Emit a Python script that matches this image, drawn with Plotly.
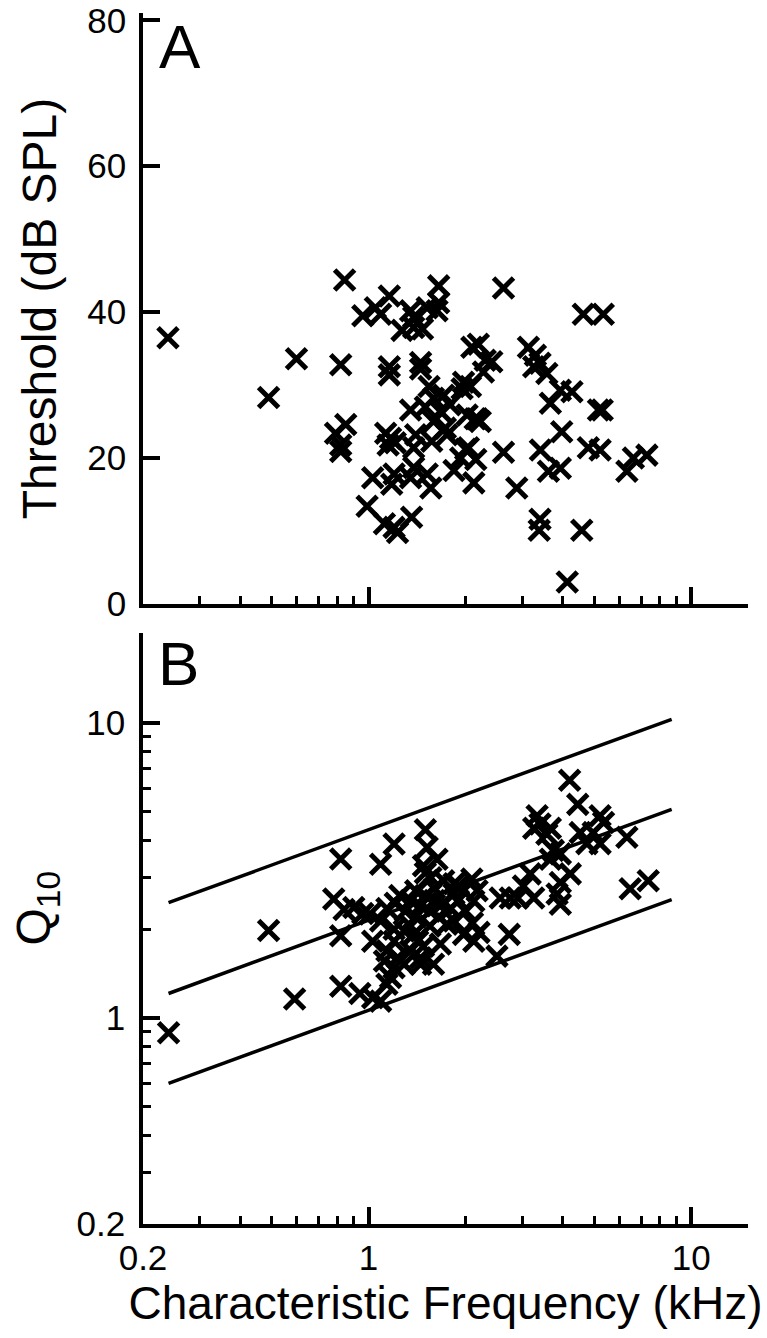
import math
import plotly.graph_objects as go

# ---------------- data ----------------
# Panel A: characteristic frequency (kHz) vs threshold (dB SPL)
cf_a = [0.239, 0.49, 0.598, 0.82, 0.843, 0.85, 0.79, 0.82, 0.82, 0.96,
        1.05, 1.09, 1.16, 1.35, 1.38, 1.63, 1.65, 1.65, 1.52, 2.62,
        4.63, 5.34, 1.27, 1.47, 1.38, 1.16, 1.16, 1.45, 1.45, 2.09,
        2.19, 2.30, 2.41, 3.13, 3.29, 3.25, 3.40, 3.57, 3.93, 4.27,
        3.66, 5.16, 5.30, 3.97, 1.54, 2.07, 1.97, 1.59, 1.71, 1.35,
        1.50, 1.67, 1.79, 2.17, 2.22, 2.02, 1.73, 1.59, 1.17, 1.13,
        1.21, 1.15, 1.40, 1.38, 1.57, 1.75, 2.04, 1.93, 2.62, 2.88,
        2.12, 1.84, 1.52, 1.56, 1.35, 1.38, 1.20, 1.18, 1.03, 0.99,
        1.12, 1.20, 1.23, 1.36, 3.40, 3.38, 4.58, 4.13, 3.41, 3.61,
        3.93, 4.80, 5.22, 6.32, 6.62, 7.29, 2.00, 1.95, 2.14, 2.27,
        2.15]
thr_a = [36.5, 28.3, 33.6, 32.8, 44.4, 24.6, 23.4, 21.8, 20.9, 39.5,
         40.6, 39.7, 42.2, 40.2, 39.3, 40.2, 41.3, 43.6, 40.6, 43.3,
         39.7, 39.7, 37.5, 37.7, 37.9, 32.5, 31.4, 33.1, 32.2, 35.2,
         35.6, 33.4, 33.2, 35.2, 34.1, 32.5, 33.0, 31.6, 29.3, 29.1,
         27.5, 26.6, 26.6, 23.6, 29.8, 29.8, 30.4, 28.2, 28.6, 26.6,
         27.0, 26.4, 27.3, 25.4, 25.0, 25.9, 24.1, 25.0, 22.7, 23.4,
         22.1, 21.8, 23.2, 21.4, 22.3, 23.2, 21.4, 20.0, 20.8, 15.9,
         16.6, 18.3, 17.8, 15.9, 17.3, 18.7, 17.8, 16.4, 17.3, 13.4,
         11.0, 10.5, 9.8, 11.9, 11.6, 10.1, 10.1, 3.0, 21.1, 18.2,
         18.6, 21.4, 21.1, 18.2, 20.0, 20.4, 21.2, 29.5, 25.4, 31.8,
         19.8]

# Panel B: characteristic frequency (kHz) vs Q10
cf_b = [0.24, 0.49, 0.59, 0.82, 0.78, 0.84, 0.82, 0.82, 0.94, 1.03,
        1.09, 0.90, 0.96, 1.03, 1.09, 1.20, 1.50, 1.52, 1.63, 1.48,
        1.56, 1.71, 2.09, 2.17, 1.97, 1.84, 1.20, 1.17, 1.14, 1.14,
        1.12, 1.23, 1.29, 1.35, 1.45, 1.59, 1.45, 1.97, 2.12, 1.75,
        1.84, 1.42, 1.67, 1.29, 1.38, 1.01, 1.09, 1.14, 1.21, 1.30,
        1.35, 1.40, 1.45, 1.50, 1.55, 1.60, 1.65, 1.70, 1.40, 1.25,
        1.55, 1.80, 1.90, 2.00, 2.10, 2.20, 1.35, 1.60, 1.50, 1.90,
        1.48, 1.20, 1.20, 1.84, 2.12,
        4.20, 4.45, 3.33, 3.40, 3.25, 3.66, 5.22, 5.35, 4.53, 4.97,
        4.75, 5.22, 6.32, 3.57, 3.74, 3.93, 3.66, 3.17, 3.02, 2.90,
        3.25, 2.56, 2.75, 4.22, 3.93, 3.84, 3.93, 6.47, 7.36, 2.73,
        2.50]
q10_b = [0.89, 1.98, 1.16, 3.46, 2.53, 2.33, 1.90, 1.28, 1.21, 1.17,
         1.14, 2.37, 2.26, 1.82, 3.32, 3.89, 4.35, 3.79, 3.45, 3.28,
         2.99, 2.92, 2.96, 2.70, 2.70, 2.63, 1.48, 1.37, 1.30, 1.69,
         1.56, 1.60, 1.52, 1.69, 1.60, 1.52, 1.52, 1.92, 1.82, 2.08,
         2.13, 1.82, 1.78, 1.97, 1.92, 2.25, 2.13, 2.35, 2.45, 2.30,
         2.50, 2.20, 2.40, 2.60, 2.30, 2.50, 2.20, 2.45, 2.70, 2.60,
         2.05, 2.35, 2.50, 2.30, 2.10, 1.95, 2.05, 2.75, 3.10, 2.80,
         1.75, 2.00, 1.82, 2.85, 2.49,
         6.40, 5.30, 4.85, 4.55, 4.40, 4.40, 4.85, 4.60, 4.25, 4.25,
         3.90, 3.90, 4.10, 4.20, 3.70, 3.60, 3.45, 3.08, 2.80, 2.55,
         2.55, 2.55, 2.55, 3.08, 2.88, 2.63, 2.43, 2.74, 2.92, 1.92,
         1.62]

# Reference lines in panel B (end points)
line_cf = [0.24, 8.7]
upper_q = [2.46, 10.3]
mid_q = [1.21, 5.1]
lower_q = [0.60, 2.52]

# Tick labels
x_tickvals = [0.2, 1, 10]
x_ticktext = ["0.2", "1", "10"]
log_minor = [0.3, 0.4, 0.5, 0.6, 0.7, 0.8, 0.9, 2, 3, 4, 5, 6, 7, 8, 9]
ya_tickvals = [0, 20, 40, 60, 80]
yb_tickvals = [0.2, 1, 10]
yb_ticktext = ["0.2", "1", "10"]

# ---------------- figure ----------------
FONT = "Liberation Sans, Arial, Helvetica, sans-serif"
TICKFONT = dict(family=FONT, size=35, color="black")
marker = dict(symbol="x-thin", size=20, color="black",
              line=dict(color="black", width=5))

fig = go.Figure()
fig.add_trace(go.Scatter(x=cf_a, y=thr_a, mode="markers", marker=marker,
                         xaxis="x", yaxis="y", showlegend=False))
for qs in (upper_q, mid_q, lower_q):
    fig.add_trace(go.Scatter(x=line_cf, y=qs, mode="lines",
                             line=dict(color="black", width=3.5),
                             xaxis="x2", yaxis="y2", showlegend=False))
fig.add_trace(go.Scatter(x=cf_b, y=q10_b, mode="markers", marker=marker,
                         xaxis="x2", yaxis="y2", showlegend=False))

common = dict(showline=True, linecolor="black", linewidth=3.5,
              ticks="inside", ticklen=17, tickwidth=3.5, tickcolor="black",
              showgrid=False, zeroline=False, tickfont=TICKFONT,
              ticklabeloverflow="allow", automargin=False)
minor = dict(tickmode="array", tickvals=log_minor, ticks="inside",
             ticklen=8, tickwidth=3, tickcolor="black", showgrid=False)
xrange = [math.log10(0.2), math.log10(15)]

fig.update_layout(
    width=767, height=1338,
    margin=dict(l=143, r=19, t=13, b=114, autoexpand=False),
    paper_bgcolor="white", plot_bgcolor="white",
    font=dict(family=FONT, color="black"),
    xaxis=dict(common, type="log", range=xrange, domain=[0, 1], anchor="y",
               tickmode="array", tickvals=x_tickvals, ticktext=x_ticktext,
               showticklabels=False, minor=minor),
    yaxis=dict(common, range=[0, 81], domain=[0.512, 1], anchor="x",
               tickmode="array", tickvals=ya_tickvals, ticklabelstandoff=6,
               title=dict(text="Threshold (dB SPL)", standoff=16,
                          font=dict(family=FONT, size=48))),
    xaxis2=dict(common, type="log", range=xrange, domain=[0, 1], anchor="y2",
                tickmode="array", tickvals=x_tickvals, ticktext=x_ticktext,
                ticklabelstandoff=0, minor=minor,
                title=dict(text="Characteristic Frequency (kHz)", standoff=2,
                           font=dict(family=FONT, size=46))),
    yaxis2=dict(common, type="log",
                range=[math.log10(0.2), math.log10(20.2)],
                domain=[0, 0.488], anchor="x2",
                tickmode="array", tickvals=yb_tickvals, ticktext=yb_ticktext,
                ticklabelstandoff=7, minor=minor),
    annotations=[
        dict(text="A", xref="x domain", yref="y domain", x=0.061, y=0.943,
             xanchor="center", yanchor="middle", showarrow=False,
             font=dict(family=FONT, size=62, color="black")),
        dict(text="B", xref="x2 domain", yref="y2 domain", x=0.058, y=0.948,
             xanchor="center", yanchor="middle", showarrow=False,
             font=dict(family=FONT, size=62, color="black")),
        # y-axis title of panel B
        dict(text="Q<sub>10</sub>", xref="paper", yref="y2 domain",
             x=-0.175, y=0.534, textangle=-90,
             xanchor="center", yanchor="middle", showarrow=False,
             font=dict(family=FONT, size=48, color="black")),
    ],
)

fig.write_html("out.html",
               config={"displayModeBar": False},
               post_script="document.body.style.margin='0px';"
                           "document.body.style.overflow='hidden';")
